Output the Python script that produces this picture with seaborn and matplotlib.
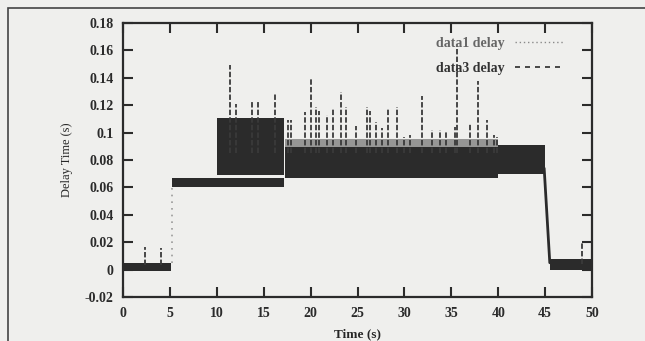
import numpy as np
import pandas as pd
import matplotlib
matplotlib.use("Agg")
import matplotlib.pyplot as plt
from matplotlib.patches import Rectangle
from matplotlib.lines import Line2D
import seaborn as sns

# ---- data ----
# dense blocks of delay samples: time span and delay range (s)
band_start = [0.0, 5.2, 10.0, 17.3, 40.0, 45.5]
band_end = [5.1, 17.2, 17.2, 40.0, 45.0, 50.0]
band_low = [-0.0012, 0.0605, 0.069, 0.067, 0.070, -0.0005]
band_high = [0.0048, 0.0668, 0.1108, 0.0895, 0.0910, 0.0078]

# ragged fringe above the 17-40 s block
fringe_start = [17.3]
fringe_end = [40.0]
fringe_low = [0.089]
fringe_high = [0.095]

# isolated delay spikes: time (s) and peak delay (s)
spike_t = [2.3, 4.05, 11.4, 12.1, 13.7, 14.4, 16.2, 17.6, 17.9, 19.4, 20.0,
           20.6, 20.9, 21.8, 22.4, 23.2, 23.8, 24.8, 26.0, 26.3, 27.0, 27.6,
           28.2, 29.2, 30.0, 30.6, 31.9, 32.9, 33.8, 34.4, 35.4, 35.6, 37.0,
           37.8, 38.8, 39.5, 39.9, 48.9]
spike_top = [0.0167, 0.0155, 0.149, 0.121, 0.123, 0.123, 0.129, 0.109, 0.109,
             0.115, 0.139, 0.119, 0.116, 0.113, 0.118, 0.130, 0.119, 0.105,
             0.119, 0.116, 0.108, 0.103, 0.118, 0.119, 0.097, 0.098, 0.127,
             0.102, 0.102, 0.101, 0.104, 0.163, 0.107, 0.138, 0.109, 0.098,
             0.097, 0.0197]
spike_base = [0.003, 0.003] + [0.085] * 35 + [0.004]

# transitions
data1_t = [5.2, 5.2]
data1_v = [0.005, 0.060]
data3_t = [44.9, 45.5]
data3_v = [0.074, 0.005]

x_ticks = [0, 5, 10, 15, 20, 25, 30, 35, 40, 45, 50]
y_ticks = [-0.02, 0, 0.02, 0.04, 0.06, 0.08, 0.1, 0.12, 0.14, 0.16, 0.18]
y_labels = ["-0.02", "0", "0.02", "0.04", "0.06", "0.08", "0.1", "0.12",
            "0.14", "0.16", "0.18"]

# ---- style ----
sns.set_theme(style="ticks")
paper = "#efefed"
ink = "#2b2b2b"
plt.rcParams["font.family"] = ["Liberation Serif", "DejaVu Serif"]
plt.rcParams["text.color"] = ink

fig = plt.figure(figsize=(6.45, 3.41), dpi=100, facecolor=paper)
ax = fig.add_axes([123 / 645, 1 - 297 / 341, 469 / 645, 274 / 341])
ax.set_facecolor(paper)

# page frame of the scanned figure
fig.patches.append(Rectangle((8 / 645, -0.2), 1.2, 1.2 - 8 / 341,
                             transform=fig.transFigure, fill=False,
                             edgecolor="#444444", linewidth=1.2))

for s, e, lo, hi in zip(band_start, band_end, band_low, band_high):
    ax.fill_between([s, e], [lo, lo], [hi, hi], color=ink, linewidth=0)
for s, e, lo, hi in zip(fringe_start, fringe_end, fringe_low, fringe_high):
    ax.fill_between([s, e], [lo, lo], [hi, hi], color=ink,
                    linewidth=0, alpha=0.45)

ax.vlines(spike_t, spike_base, spike_top, colors="#3a3a3a", linewidth=1.3,
          linestyles=(0, (3, 1.2)))

sns.lineplot(x=data1_t, y=data1_v, ax=ax, color="#9a9a9a", linewidth=1.2,
             linestyle=(0, (1, 3)), estimator=None, sort=False)
sns.lineplot(x=data3_t, y=data3_v, ax=ax, color=ink, linewidth=2.0,
             estimator=None, sort=False)

ax.set_xlim(0, 50)
ax.set_ylim(-0.02, 0.18)
ax.set_xticks(x_ticks)
ax.set_xticklabels([str(v) for v in x_ticks])
ax.set_yticks(y_ticks)
ax.set_yticklabels(y_labels)

for sp in ax.spines.values():
    sp.set_visible(True)
    sp.set_color(ink)
    sp.set_linewidth(1.6)
ax.tick_params(direction="in", length=7, width=1.5, colors=ink,
               top=True, right=True, labelsize=10, pad=7)
for lab in ax.get_xticklabels() + ax.get_yticklabels():
    lab.set_fontweight("bold")

ax.set_xlabel("Time (s)", fontsize=9.5, fontweight="bold", labelpad=6)
ax.set_ylabel("Delay Time (s)", fontsize=9, labelpad=8)

handles = [Line2D([], [], color="#8a8a8a", linewidth=1.0, linestyle=(0, (1, 2))),
           Line2D([], [], color=ink, linewidth=1.2, linestyle=(0, (3, 3)))]
leg = ax.legend(handles, ["data1 delay", "data3 delay"], loc="upper right",
                bbox_to_anchor=(0.955, 0.968), frameon=False, markerfirst=False,
                handlelength=3.6, labelspacing=0.85, borderaxespad=0,
                prop={"family": "Liberation Serif", "weight": "bold", "size": 10})
leg.get_texts()[0].set_color("#666666")
leg.get_texts()[1].set_color("#333333")

fig.savefig("out.png", dpi=100, facecolor=paper)
